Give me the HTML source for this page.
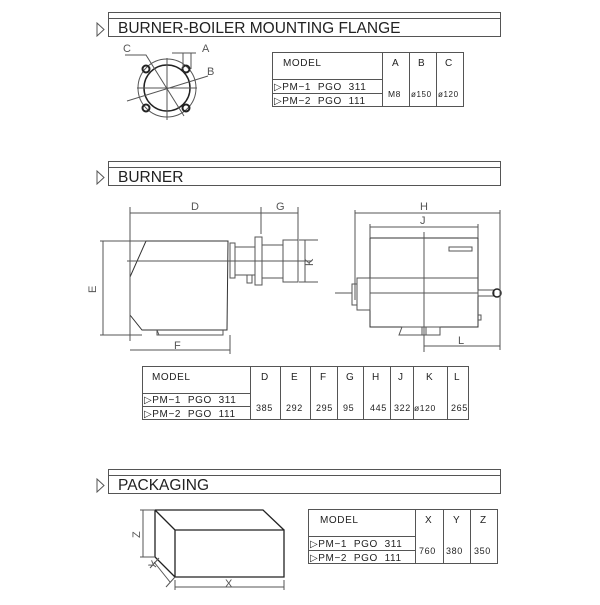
<!DOCTYPE html>
<html><head><meta charset="utf-8"><style>
html,body{margin:0;padding:0;background:#fff;}
svg text{font-family:"Liberation Sans",sans-serif;fill:#222;white-space:pre;}
</style></head><body>
<svg width="600" height="600" viewBox="0 0 600 600" xmlns="http://www.w3.org/2000/svg">
<g fill="none" stroke="#555" stroke-width="1">
<path d="M108.5 12.5H500.5V36.5H108.5Z M108.5 18.5H500.5"/>
<path d="M97 23L104 29.5L97 36Z"/>
<path d="M108.5 161.5H500.5V185.5H108.5Z M108.5 167.5H500.5"/>
<path d="M97 171L104 177.5L97 184Z"/>
<path d="M108.5 469.5H500.5V493.5H108.5Z M108.5 475.5H500.5"/>
<path d="M97 479L104 485.5L97 492Z"/>

<circle cx="167" cy="88" r="29"/>
<circle cx="167" cy="88" r="23" stroke="#222" stroke-width="1.5"/>
<g stroke="#222" stroke-width="2"><circle cx="146" cy="69" r="3.5"/><circle cx="186" cy="69" r="3.5"/><circle cx="146" cy="108" r="3.5"/><circle cx="186" cy="108" r="3.5"/></g>
<path d="M137 88H197 M167 58V120 M127 101L208 76 M125 55L146 55L184 116 M172 53H196 M183 53V69 M191 53V69"/>

<path d="M272.5 52.5H463.5V106.5H272.5Z M272.5 79.5H382.5 M272.5 93.5H382.5 M382.5 52.5V106.5 M409.5 52.5V106.5 M436.5 52.5V106.5"/>

<path d="M146 241H228L227 330H142L130 315V277Z" stroke="#333"/>
<path d="M157 330V335H223V330 M157 330L159 335"/>
<path d="M230 243H235V278H230Z M235 247H255V275H235Z M255 237H262V285H255Z M262 245H283V278H262Z M283 240H298V282H283Z M247 275V283H252V275"/>
<path d="M127 261H312"/>
<path d="M130 207V341 M261 207V234 M298 207V240 M130 213H298 M100 241H146 M100 335H142 M103 241V335 M299 240H318 M299 282H318 M305 240V282 M130 350H230 M230 335V354"/>

<path d="M370 238H478V327H370Z" stroke="#333"/>
<path d="M449 247H472V251H449Z"/>
<path d="M424 232V352 M370 278H478 M370 293H478 M335 293H352"/>
<path d="M357 278H370V310H357Z M352 284H357V305H352Z"/>
<path d="M478 290H494V296H478Z"/>
<circle cx="497" cy="293" r="4" stroke="#222" stroke-width="1.5"/>
<path d="M399 335L402 327H440V335Z M422 327V335 M426 327V335 M478 315H481V320H478"/>
<path d="M355 210V300 M500 210V350 M355 213H500 M370 227H478 M370 224V238 M478 224V238 M424 346H500"/>

<path d="M142.5 366.5H468.5V419.5H142.5Z M142.5 393.5H250.5 M142.5 406.5H250.5 M250.5 366.5V419.5 M280.5 366.5V419.5 M310.5 366.5V419.5 M337.5 366.5V419.5 M363.5 366.5V419.5 M390.5 366.5V419.5 M413.5 366.5V419.5 M447.5 366.5V419.5"/>

<path d="M175 530H284V577H175Z M155 510H263L284 530 M155 510V557L175 577 M155 510L175 530" stroke="#222" stroke-width="1.3"/>
<path d="M140 510H155 M140 557H155 M143 510V557 M150 568L159 558 M166 587L175 577 M154 562L170 582 M175 580V590 M284 580V590 M175 587H284"/>

<path d="M308.5 509.5H497.5V563.5H308.5Z M308.5 536.5H415.5 M308.5 550.5H415.5 M415.5 509.5V563.5 M443.5 509.5V563.5 M470.5 509.5V563.5"/>
</g>

<g font-size="15.5">
<text x="118" y="33">BURNER-BOILER MOUNTING FLANGE</text>
<text x="118" y="182">BURNER</text>
<text x="118" y="490">PACKAGING</text>
</g>
<g font-size="11">
<text x="123" y="52" style="fill:#555">C</text>
<text x="202" y="52" style="fill:#555">A</text>
<text x="207" y="75" style="fill:#555">B</text>
<text x="191" y="210" style="fill:#555">D</text>
<text x="276" y="210" style="fill:#555">G</text>
<text x="420" y="210" style="fill:#555">H</text>
<text x="420" y="224" style="fill:#555">J</text>
<text x="174" y="349" style="fill:#555">F</text>
<text x="458" y="344" style="fill:#555">L</text>
<text x="225" y="587" style="fill:#555">X</text>
<text transform="translate(96,293) rotate(-90)" style="fill:#555">E</text>
<text transform="translate(313,266) rotate(-90)" style="fill:#555">K</text>
<text transform="translate(140,538) rotate(-90)" style="fill:#555">Z</text>
<text transform="translate(154,570) rotate(-55)" style="fill:#555">Y</text>
</g>
<g font-size="10" style="letter-spacing:0.6px">
<text x="283" y="66">MODEL</text><text x="392" y="66">A</text><text x="418" y="66">B</text><text x="445" y="66">C</text>
<text x="274" y="90">▷PM−1  PGO  311</text><text x="274" y="104">▷PM−2  PGO  111</text>
<text x="388" y="97" font-size="8.5">M8</text><text x="411" y="97" font-size="8">ø150</text><text x="438" y="97" font-size="8">ø120</text>

<text x="152" y="380">MODEL</text>
<text x="261" y="380">D</text><text x="291" y="380">E</text><text x="320" y="380">F</text><text x="346" y="380">G</text><text x="372" y="380">H</text><text x="398" y="380">J</text><text x="426" y="380">K</text><text x="454" y="380">L</text>
<text x="144" y="403">▷PM−1  PGO  311</text><text x="144" y="417">▷PM−2  PGO  111</text>
<text x="256" y="411" font-size="9">385</text><text x="286" y="411" font-size="9">292</text><text x="316" y="411" font-size="9">295</text><text x="343" y="411" font-size="9">95</text><text x="370" y="411" font-size="9">445</text><text x="394" y="411" font-size="9">322</text><text x="414" y="411" font-size="8.5">ø120</text><text x="451" y="411" font-size="9">265</text>

<text x="320" y="523">MODEL</text>
<text x="425" y="523">X</text><text x="453" y="523">Y</text><text x="480" y="523">Z</text>
<text x="310" y="547">▷PM−1  PGO  311</text><text x="310" y="561">▷PM−2  PGO  111</text>
<text x="419" y="554" font-size="9">760</text><text x="446" y="554" font-size="9">380</text><text x="474" y="554" font-size="9">350</text>
</g>
</svg>
</body></html>
